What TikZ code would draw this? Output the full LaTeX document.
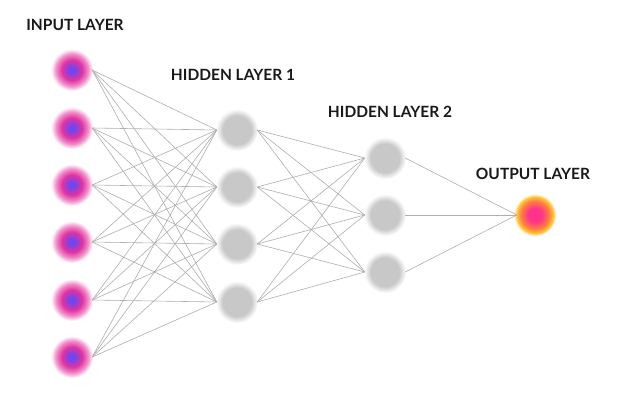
\documentclass[tikz,border=0pt]{standalone}
\usepackage{fontspec}
\setmainfont{Lato}
\definecolor{inpc}{RGB}{110,70,240}
\definecolor{inpm}{RGB}{225,50,160}
\definecolor{inpp}{RGB}{240,140,200}
\definecolor{hidc}{RGB}{200,200,200}
\definecolor{outc}{RGB}{255,50,140}
\definecolor{outo}{RGB}{255,130,60}
\definecolor{outy}{RGB}{255,200,60}
\definecolor{linec}{RGB}{175,175,175}
\pgfdeclareradialshading{inpsh}{\pgfpoint{0bp}{0bp}}{color(0bp)=(inpc);color(3bp)=(inpc);color(12bp)=(inpm);color(19bp)=(inpp);color(25bp)=(white);color(50bp)=(white)}
\pgfdeclareradialshading{hidsh}{\pgfpoint{0bp}{0bp}}{color(0bp)=(hidc);color(17bp)=(hidc);color(25bp)=(white);color(50bp)=(white)}
\pgfdeclareradialshading{outsh}{\pgfpoint{0bp}{0bp}}{color(0bp)=(outc);color(8bp)=(outc);color(17bp)=(outo);color(22bp)=(outy);color(25bp)=(white);color(50bp)=(white)}
\tikzset{
 neuron/.style={circle,draw=none,minimum size=42pt,inner sep=0pt},
 inp/.style={neuron,shading=inpsh},
 hid/.style={neuron,shading=hidsh},
 outn/.style={neuron,shading=outsh},
 conn/.style={draw=linec,line width=0.6pt},
 lbl/.style={font=\fontsize{15.5}{18}\selectfont\bfseries,text=black!90}
}
\begin{document}
\begin{tikzpicture}[x=1pt,y=-1pt]
\useasboundingbox[fill=white] (0,0) rectangle (643,402);
\foreach \i/\y in {1/70,2/128,3/185,4/242,5/300,6/357} \node[inp] (i\i) at (72,\y) {};
\foreach \i/\y in {1/130,2/187,3/244,4/302} \node[hid] (h\i) at (237,\y) {};
\foreach \i/\y in {1/158,2/215,3/272} \node[hid] (g\i) at (385,\y) {};
\node[outn] (o) at (535,215) {};
\foreach \a in {1,...,6}{\foreach \b in {1,...,4}{\draw[conn] ([xshift=-1pt]i\a.east) -- ([xshift=1pt]h\b.west);}}
\foreach \a in {1,...,4}{\foreach \b in {1,...,3}{\draw[conn] ([xshift=-1pt]h\a.east) -- ([xshift=1pt]g\b.west);}}
\foreach \a in {1,...,3}{\draw[conn] ([xshift=-1pt]g\a.east) -- ([xshift=3pt]o.west);}
\node[lbl] (l1) at (75,25) {INPUT LAYER};
\node[lbl] (l2) at (233,75) {HIDDEN LAYER 1};
\node[lbl] (l3) at (390,112) {HIDDEN LAYER 2};
\node[lbl] (l4) at (533,174) {OUTPUT LAYER};
\end{tikzpicture}
\end{document}
